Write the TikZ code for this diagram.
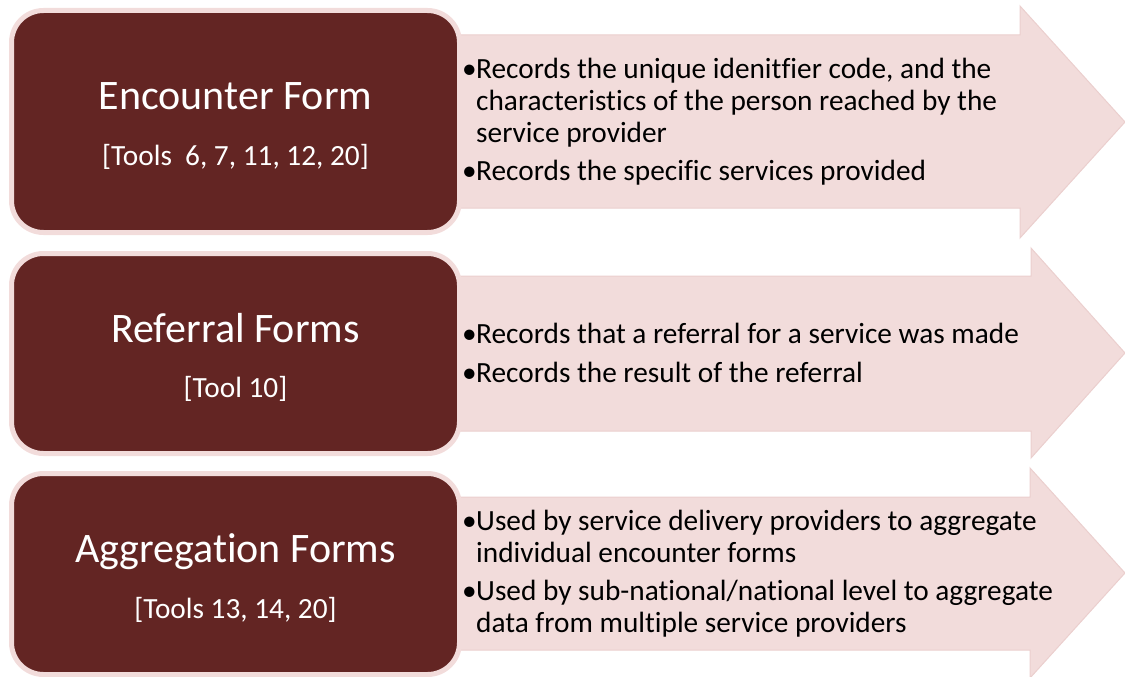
\documentclass[tikz,border=0pt]{standalone}
\usepackage{fontspec}
\setmainfont{Carlito}[Ligatures={NoCommon}]
\definecolor{darkred}{HTML}{632523}
\definecolor{pinkfill}{HTML}{F2DCDB}
\definecolor{pinkedge}{HTML}{EBCFCE}
\newcommand{\itembul}{\makebox[14pt][l]{•}}
\newcommand{\itemcont}{\hspace*{14pt}}
\begin{document}
\begin{tikzpicture}[x=1pt,y=-1pt,
  formbox/.style={draw=pinkfill, line width=5pt, fill=darkred, rounded corners=32pt, minimum width=448pt, inner sep=0pt},
  arrowshape/.style={fill=pinkfill, draw=pinkedge, line width=1pt, line join=miter},
  titletext/.style={text=white, font=\fontsize{42}{50}\selectfont, anchor=base, inner sep=0pt},
  subtext/.style={text=white, font=\fontsize{29.3}{35}\selectfont, anchor=base, inner sep=0pt},
  bullettext/.style={text=black, font=\fontsize{29.3}{31.8}\selectfont, align=left, anchor=west, inner sep=0pt},
]
\useasboundingbox (0,0) rectangle (1125,677);
% arrows
\path[arrowshape] (440,35) -- (1020,35) -- (1020,6) -- (1125,122) -- (1020,238) -- (1020,208) -- (440,208) -- cycle;
\path[arrowshape] (440,276) -- (1031,276) -- (1031,248) -- (1125,353) -- (1031,458) -- (1031,431) -- (440,431) -- cycle;
\path[arrowshape] (440,497) -- (1030,497) -- (1030,468) -- (1125,573) -- (1030,678) -- (1030,650) -- (440,650) -- cycle;
% boxes
\node[formbox, minimum height=222pt] (box1) at (235.5,121.5) {};
\node[formbox, minimum height=200pt] (box2) at (235.5,353.5) {};
\node[formbox, minimum height=201pt] (box3) at (235.5,574) {};
% titles
\node[titletext] (t1) at (235.5,110) {Encounter Form};
\node[subtext] (s1) at (235.5,165.5) {[Tools\ \ 6, 7, 11, 12, 20]};
\node[titletext] (t2) at (235.5,342) {Referral Forms};
\node[subtext] (s2) at (235.5,397.5) {[Tool 10]};
\node[titletext] (t3) at (235.5,562.5) {Aggregation Forms};
\node[subtext] (s3) at (235.5,618) {[Tools 13, 14, 20]};
% bullet texts
\node[bullettext] (b1) at (462,122) {\itembul Records the unique idenitfier code, and the\\
\itemcont characteristics of the person reached by the\\
\itemcont service provider\\[6.5pt]
\itembul Records the specific services provided};
\node[bullettext] (b2) at (462,353) {\itembul Records that a referral for a service was made\\[6.5pt]
\itembul Records the result of the referral};
\node[bullettext] (b3) at (462,574) {\itembul Used by service delivery providers to aggregate\\
\itemcont individual encounter forms\\[6.5pt]
\itembul Used by sub-national/national level to aggregate\\
\itemcont data from multiple service providers};
\end{tikzpicture}
\end{document}
